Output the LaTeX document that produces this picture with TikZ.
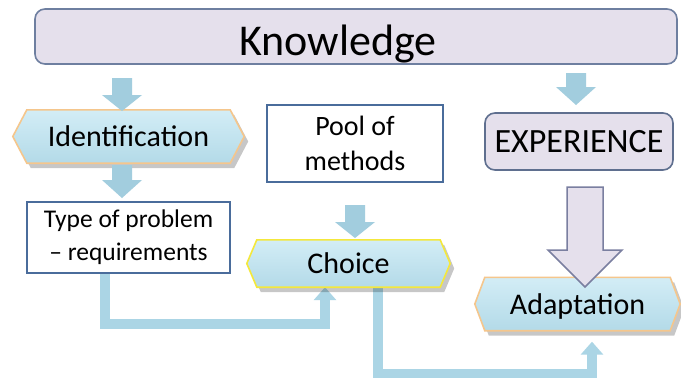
\documentclass[tikz,border=0pt]{standalone}
\usepackage{fontspec}
\setmainfont{Carlito}
\usetikzlibrary{shadows,arrows.meta}
\pgfdeclarelayer{back}
\pgfsetlayers{back,main}
\definecolor{lav}{HTML}{E5E0EC}
\definecolor{kborder}{HTML}{6E7FA0}
\definecolor{eborder}{HTML}{5F6F8F}
\definecolor{hexT}{HTML}{D3EDF6}
\definecolor{hexB}{HTML}{B3DAE8}
\definecolor{orangeb}{HTML}{F5C68C}
\definecolor{yellowb}{HTML}{F4E83C}
\definecolor{rectb}{HTML}{4A6C9B}
\definecolor{connc}{HTML}{ABD5E5}
\definecolor{arrc}{HTML}{A2CDDE}
\definecolor{bigb}{HTML}{7A7FA0}
\newcommand\drawhex[3]{%
  \path[draw=#3, line width=1.6pt, top color=hexT, bottom color=hexB,
        drop shadow={shadow xshift=4pt, shadow yshift=-5pt, opacity=0.22, fill=black}]
    ([xshift=-#2]#1.west) -- (#1.north west) -- (#1.north east) --
    ([xshift=#2]#1.east) -- (#1.south east) -- (#1.south west) -- cycle;}
\newcommand\smallarr[4]{%
  \fill[arrc] (#1-10,#2) -- (#1+10,#2) -- (#1+10,#3) -- (#1+20,#3) --
    (#1,#4) -- (#1-20,#3) -- (#1-10,#3) -- cycle;}
\begin{document}
\begin{tikzpicture}[x=1pt,y=-1pt,
  hexn/.style={inner sep=0pt, font=\fontsize{30}{36}\selectfont},
  rbox/.style={draw=rectb, line width=1.2pt, fill=white, inner sep=0pt, align=center},
  lbox/.style={draw=#1, line width=1.6pt, fill=lav, rounded corners=10pt, inner sep=0pt},
  conn/.style={draw=connc, line width=10pt, line join=miter,
     -{Triangle[width=22pt,length=13pt]}}]
\useasboundingbox (0,0) rectangle (681,378);

% boxes
\node[lbox=kborder, minimum width=642pt, minimum height=55pt] (know) at (356,36.5) {};
\node[anchor=base, font=\fontsize{44}{50}\selectfont, inner sep=0pt] (knowtext) at (338,55) {Knowledge};

\node[hexn, minimum width=203pt, minimum height=53pt] (ident) at (128.5,136.5) {Identification};
\node[rbox, minimum width=203pt, minimum height=71pt, font=\fontsize{25.5}{33}\selectfont] (type) at (128.5,237.5) {Type of problem\\– requirements};
\node[rbox, minimum width=176pt, minimum height=77pt, font=\fontsize{28}{35}\selectfont] (pool) at (355,143.5) {Pool of\\methods};
\node[hexn, minimum width=183pt, minimum height=47pt] (choice) at (348.5,263.5) {Choice};
\node[lbox=eborder, minimum width=188pt, minimum height=57pt, font=\fontsize{34}{40}\selectfont] (exp) at (579,141.5) {EXPERIENCE};
\node[hexn, minimum width=185pt, minimum height=53pt, text depth=0pt] (adapt) at (577.5,304) {Adaptation};

\begin{pgfonlayer}{back}
  \fill[white] (0,0) rectangle (681,378);
  \coordinate (k1) at (105,324);
  \coordinate (k2) at (325,324);
  \coordinate (k3) at (378,374);
  \coordinate (k4) at (592,374);
  \draw[conn] (type.south -| k1) -- (k1) -- (k2) -- (choice.south -| k2);
  \draw[conn, shorten >=11pt] (choice.south -| k3) -- (k3) -- (k4) -- (adapt.south -| k4);
  \drawhex{ident}{14pt}{orangeb}
  \drawhex{choice}{10pt}{yellowb}
  \drawhex{adapt}{10pt}{orangeb}
\end{pgfonlayer}

% small arrows
\smallarr{122}{78}{95}{111}
\smallarr{122}{165}{180}{198}
\smallarr{355}{205}{222}{238}
\smallarr{576}{73}{87}{105}

% big arrow from experience to adaptation
\path[fill=lav, draw=bigb, line width=1.5pt, line join=miter]
  (567,187) -- (603,187) -- (603,250) -- (622,250) -- (585,287) -- (548,250) -- (567,250) -- cycle;
\end{tikzpicture}
\end{document}
